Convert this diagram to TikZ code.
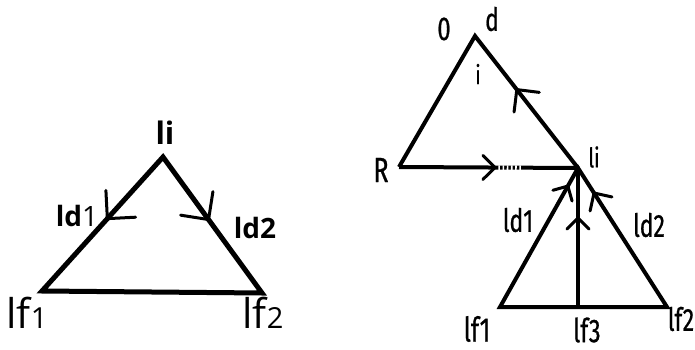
\documentclass[tikz,border=0pt]{standalone}
\usepackage{fontspec}
\setmainfont{Open Sans}
\newfontfamily\condfont[FakeStretch=0.72, FakeBold=0.6]{Fira Sans}
\usetikzlibrary{decorations.markings,calc}
\tikzset{
  barbline/.style={line width=3pt, line cap=round, line join=round},
  barb/.style 2 args={postaction={decorate},
    decoration={markings, mark=at position #1 with {\draw[barbline] (-#2pt,#2pt) -- (0pt,0pt) -- (-#2pt,-#2pt);}}},
  leftline/.style={line width=5pt, line join=miter},
  rightline/.style={line width=4pt, line join=miter},
  lab/.style={inner sep=0pt, anchor=center},
  rlab/.style={inner sep=0pt, anchor=center, font=\condfont}
}
\begin{document}
\begin{tikzpicture}[x=1pt,y=-1pt]
\useasboundingbox (0,0) rectangle (695,350);
% ---------- left triangle ----------
\coordinate (Li) at (163,157);
\coordinate (Lf1) at (42,291);
\coordinate (Lf2) at (262,293);
\draw[leftline] (Lf1) -- (Li) -- (Lf2) -- cycle;
\path[barb={0.46}{20}] (Li) -- (Lf1);
\path[barb={0.46}{20}] (Li) -- (Lf2);
\node[lab, font=\fontsize{31}{34}\selectfont\bfseries] (tLi) at (165,133) {li};
\node[lab, font=\fontsize{28}{30}\selectfont] (tLd1) at (77,216) {\textbf{ld}1};
\node[lab, font=\fontsize{28}{30}\selectfont\bfseries] (tLd2) at (255,228) {ld2};
\node[lab, font=\fontsize{41}{44}\selectfont] (tLf1) at (27,313) {lf{\fontsize{29}{30}\selectfont 1}};
\node[lab, font=\fontsize{41}{44}\selectfont] (tLf2) at (263,313) {lf{\fontsize{29}{30}\selectfont 2}};
% ---------- right diagram ----------
\coordinate (A) at (475,36);
\coordinate (R) at (399,167);
\coordinate (Ri) at (578,168);
\coordinate (Rf1) at (500,307);
\coordinate (Rf2) at (667,307);
\coordinate (Rf3) at (578,307);
\draw[rightline] (R) -- (A) -- (Ri);
\draw[rightline] (R) -- (Ri);
\draw[rightline] (Rf1) -- (Ri) -- (Rf2) -- cycle;
\draw[rightline] (Rf3) -- (Ri);
% dotted part of the R line
\coordinate (D1) at ($(R)!0.555!(Ri)$);
\coordinate (D2) at ($(R)!0.685!(Ri)$);
\draw[white, line width=4.4pt, dash pattern=on 1.6pt off 2.6pt] (D1) -- (D2);
% arrow heads
\path[barb={0.594}{16}] (Ri) -- (A);
\path[barb={0.536}{12}] (R) -- (Ri);
\path[barb={0.87}{11}] (Rf1) -- (Ri);
\path[barb={0.64}{11}] (Rf3) -- (Ri);
\path[barb={0.82}{13}] (Rf2) -- (Ri);
% labels
\node[rlab, font=\condfont\fontsize{33}{36}\selectfont] (t0) at (444,29) {0};
\node[rlab, font=\condfont\fontsize{32}{36}\selectfont] (td) at (492,19) {d};
\node[rlab, font=\condfont\fontsize{26}{30}\selectfont] (ti) at (478,74) {i};
\node[rlab, font=\condfont\fontsize{35}{38}\selectfont] (tR) at (381,170) {R};
\node[rlab, font=\condfont\fontsize{27}{30}\selectfont] (tRi) at (594,157) {li};
\node[rlab, font=\condfont\fontsize{32}{34}\selectfont] (tRd1) at (518,220) {ld1};
\node[rlab, font=\condfont\fontsize{32}{34}\selectfont] (tRd2) at (649,225) {ld2};
\node[rlab, font=\condfont\fontsize{34}{36}\selectfont] (tRf1) at (477,329) {lf1};
\node[rlab, font=\condfont\fontsize{33}{36}\selectfont] (tRf3) at (587,330) {lf3};
\node[rlab, font=\condfont\fontsize{32}{34}\selectfont] (tRf2) at (681,319) {lf2};
\end{tikzpicture}
\end{document}
